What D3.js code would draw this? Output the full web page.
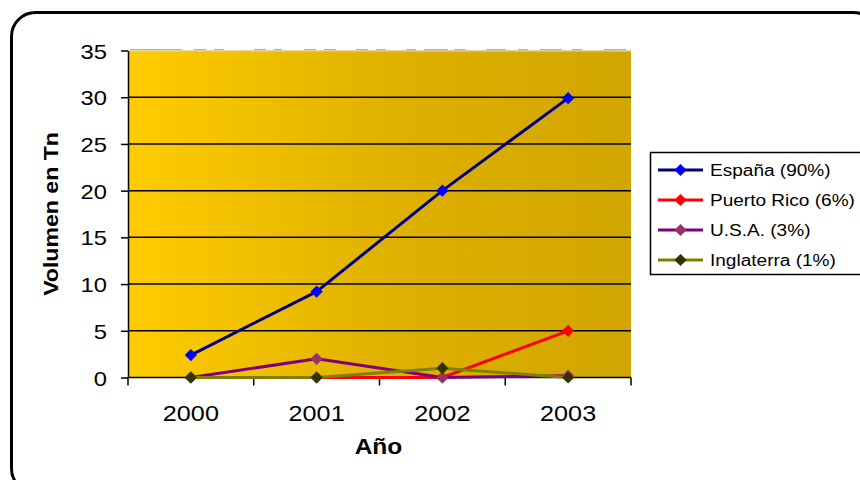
<!DOCTYPE html>
<html>
<head>
<meta charset="utf-8">
<script src="https://cdn.jsdelivr.net/npm/d3@7"></script>
<style>
  html, body { margin: 0; padding: 0; background: #ffffff; }
  svg { display: block; font-family: "Liberation Sans", Arial, sans-serif; }
</style>
</head>
<body>
<svg id="chart" width="860" height="480"></svg>
<script>
// Export volumes (tonnes) by destination country
const years = ["2000", "2001", "2002", "2003"];
const seriesNames = ["España (90%)", "Puerto Rico (6%)", "U.S.A. (3%)", "Inglaterra (1%)"];
const espana     = [2.4, 9.2, 20.0, 29.9];
const puertoRico = [0, 0, 0, 5.0];
const usa        = [0, 2.0, 0, 0.2];
const inglaterra = [0, 0, 1.0, 0];
const yTicks = [0, 5, 10, 15, 20, 25, 30, 35];

const lineColors   = ["#000080", "#ff0000", "#800080", "#808000"];
const markerColors = ["#0000ff", "#ff0000", "#993366", "#333300"];
const seriesValues = [espana, puertoRico, usa, inglaterra];

const svg = d3.select("#chart");

// Text in this chart is drawn slightly wide
const WIDE = 1.13;

// Outer rounded frame
svg.append("rect")
  .attr("x", 11.5).attr("y", 12.5)
  .attr("width", 866).attr("height", 480)
  .attr("rx", 24).attr("ry", 24)
  .attr("fill", "#ffffff")
  .attr("stroke", "#000000").attr("stroke-width", 3);

const plot = { left: 128, right: 631, top: 50.5, bottom: 377.5 };

const x = d3.scaleBand().domain(years).range([plot.left, plot.right]).padding(0);
const y = d3.scaleLinear().domain([0, 35]).range([plot.bottom, plot.top]);

// Plot background gradient
const defs = svg.append("defs");
const grad = defs.append("linearGradient").attr("id", "plotBg")
  .attr("x1", "0%").attr("y1", "0%").attr("x2", "100%").attr("y2", "0%");
grad.append("stop").attr("offset", "0%").attr("stop-color", "#ffcc00");
grad.append("stop").attr("offset", "55%").attr("stop-color", "#deb000");
grad.append("stop").attr("offset", "100%").attr("stop-color", "#d1a600");

svg.append("rect")
  .attr("x", plot.left).attr("y", plot.top)
  .attr("width", plot.right - plot.left).attr("height", plot.bottom - plot.top)
  .attr("fill", "url(#plotBg)");

// Faint top edge of the plot area
svg.append("line")
  .attr("x1", plot.left).attr("x2", plot.right)
  .attr("y1", plot.top + 0.5).attr("y2", plot.top + 0.5)
  .attr("stroke", "#cfcfcf").attr("stroke-width", 1);
svg.append("line")
  .attr("x1", plot.left + 2).attr("x2", plot.right)
  .attr("y1", plot.top - 1).attr("y2", plot.top - 1)
  .attr("stroke", "#e2b400").attr("stroke-width", 1.2)
  .attr("stroke-dasharray", "52 12 12 8 10 30 12 8 8 22 12 8 12 20 12 8 10 20 10 8 24 6 12 20 20 12 10 12 22 10 10 22 22");

// Horizontal gridlines
svg.append("g")
  .selectAll("line")
  .data(yTicks.filter(t => t > 0 && t < 35))
  .join("line")
  .attr("x1", plot.left).attr("x2", plot.right)
  .attr("y1", d => y(d)).attr("y2", d => y(d))
  .attr("stroke", "#000000").attr("stroke-width", 1.5);

// Y axis
const yAxis = svg.append("g")
  .attr("transform", `translate(${plot.left},0)`)
  .call(d3.axisLeft(y).tickValues(yTicks).tickSize(7).tickSizeOuter(0));
yAxis.select(".domain").attr("stroke", "#000").attr("stroke-width", 1.5);
yAxis.selectAll(".tick line").attr("stroke", "#000").attr("stroke-width", 1.5);
yAxis.selectAll(".tick text")
  .attr("x", 0)
  .attr("dy", "0.36em")
  .attr("transform", `translate(-21,0) scale(${WIDE},1)`)
  .attr("font-size", 21).attr("fill", "#000")
  .attr("font-family", "'Liberation Sans', Arial, sans-serif");

// X axis with ticks between categories
const xAxisG = svg.append("g").attr("transform", `translate(0,${plot.bottom})`);
xAxisG.append("line")
  .attr("x1", plot.left).attr("x2", plot.right)
  .attr("y1", 0).attr("y2", 0)
  .attr("stroke", "#000").attr("stroke-width", 1.5);
const boundaries = years.map(d => x(d)).concat([x(years[years.length - 1]) + x.bandwidth()]);
xAxisG.selectAll("line.tk")
  .data(boundaries)
  .join("line").attr("class", "tk")
  .attr("x1", d => d).attr("x2", d => d)
  .attr("y1", 0).attr("y2", 8)
  .attr("stroke", "#000").attr("stroke-width", 1.5);
xAxisG.selectAll("text")
  .data(years)
  .join("text")
  .attr("transform", d => `translate(${x(d) + x.bandwidth() / 2},43.5) scale(1.12,1)`)
  .attr("text-anchor", "middle")
  .attr("font-size", 22.5).attr("fill", "#000")
  .text(d => d);

// Axis titles
svg.append("text")
  .attr("transform", "translate(378.5,454) scale(1.14,1)")
  .attr("text-anchor", "middle")
  .attr("font-size", 21.5).attr("font-weight", "bold")
  .text("Año");
svg.append("text")
  .attr("transform", "translate(57.5,214) rotate(-90) scale(1.1,1)")
  .attr("text-anchor", "middle")
  .attr("font-size", 21).attr("font-weight", "bold")
  .text("Volumen en Tn");

// Series lines and diamond markers
const cx = d => x(d) + x.bandwidth() / 2;
const line = d3.line().x((v, i) => cx(years[i])).y(v => y(v));
const diamond = d3.symbol().type(d3.symbolDiamond2).size(95);

seriesValues.forEach((vals, s) => {
  const g = svg.append("g");
  g.append("path")
    .datum(vals)
    .attr("d", line)
    .attr("fill", "none")
    .attr("stroke", lineColors[s]).attr("stroke-width", 3)
    .attr("stroke-linejoin", "round");
  g.selectAll("path.m")
    .data(vals)
    .join("path").attr("class", "m")
    .attr("d", diamond)
    .attr("transform", (v, i) => `translate(${cx(years[i])},${y(v)})`)
    .attr("fill", markerColors[s]);
});

// Legend
const legend = svg.append("g");
legend.append("rect")
  .attr("x", 650.5).attr("y", 152.5)
  .attr("width", 222).attr("height", 122)
  .attr("fill", "#ffffff")
  .attr("stroke", "#000").attr("stroke-width", 1.5);
const rowY = [170, 200, 230, 260];
seriesNames.forEach((name, s) => {
  const ry = rowY[s];
  legend.append("line")
    .attr("x1", 658).attr("x2", 703)
    .attr("y1", ry).attr("y2", ry)
    .attr("stroke", lineColors[s]).attr("stroke-width", 3);
  legend.append("path")
    .attr("d", diamond)
    .attr("transform", `translate(680.5,${ry})`)
    .attr("fill", markerColors[s]);
  legend.append("text")
    .attr("transform", `translate(710,${ry + 5.5}) scale(1.19,1)`)
    .attr("font-size", 16).attr("fill", "#000")
    .text(name);
});
</script>
</body>
</html>
